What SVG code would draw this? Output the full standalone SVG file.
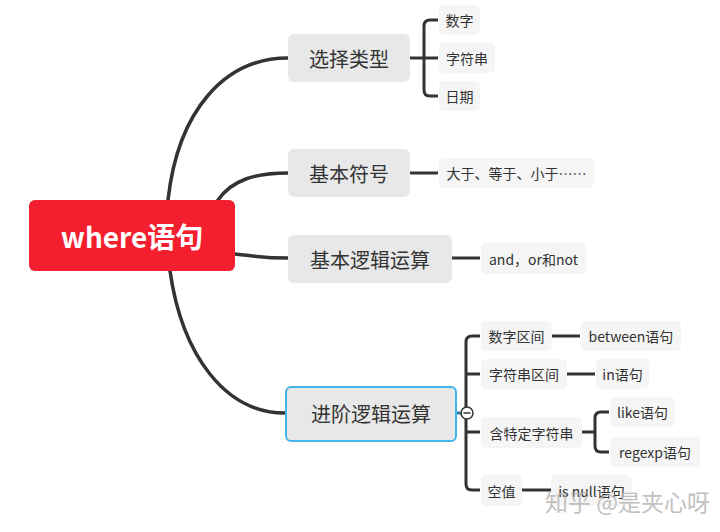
<svg xmlns="http://www.w3.org/2000/svg" width="720" height="532" viewBox="0 0 720 532">
<style>
.root{fill:#f31f2e}
.l1{fill:#e8e8e8}
.leaf{fill:#f5f5f5}
.t{font-family:"Noto Sans CJK SC","Noto Sans",sans-serif;text-anchor:middle;dominant-baseline:central;fill:#333}
.t1{font-size:20px}
.t2{font-size:14px}
.rt{font-size:28px;font-weight:bold;fill:#fff}
.c{fill:none;stroke:#333;stroke-width:3.5;stroke-linecap:round}
.b{fill:none;stroke:#333;stroke-width:3;stroke-linecap:butt}
</style>
<rect width="720" height="532" fill="#fff"/>
<g id="connectors">
<path class="c" d="M168,200 C178,110 225,58 288,58"/>
<path class="c" d="M218,200 C232,180 255,173 288,173"/>
<path class="c" d="M235,254 C255,256 262,258 288,258"/>
<path class="c" d="M170,271 C182,355 225,413 285,413"/>
<path class="b" d="M410,58 H438 M438,20 H430 Q424,20 424,26 V90 Q424,96 430,96 H438"/>
<path class="b" d="M410,173 H438"/>
<path class="b" d="M452,258 H480"/>
<path class="b" d="M480,336 H472 Q466,336 466,342 V484 Q466,490 472,490 H480 M466,374 H480 M466,432 H480"/>
<path d="M456,413 H461" stroke="#2b7fa6" stroke-width="3"/>
<path class="b" d="M552,336 H580 M567,374 H595 M522,490 H551"/>
<path class="b" d="M582,432 H595 M609,412 H601 Q595,412 595,418 V446 Q595,452 601,452 H609"/>
</g>
<g id="root">
<rect class="root" x="29" y="200" width="206" height="71" rx="6"/>
<text class="t rt" x="132" y="236">where语句</text>
</g>
<g id="n-xuanze">
<rect class="l1" x="288" y="34" width="122" height="48" rx="6"/>
<text class="t t1" x="349" y="58">选择类型</text>
</g>
<g id="n-shuzi">
<rect class="leaf" x="439" y="5" width="41" height="30" rx="5"/>
<text class="t t2" x="459.5" y="20">数字</text>
</g>
<g id="n-zifuchuan">
<rect class="leaf" x="439" y="43" width="56" height="30" rx="5"/>
<text class="t t2" x="467" y="58">字符串</text>
</g>
<g id="n-riqi">
<rect class="leaf" x="439" y="81" width="41" height="30" rx="5"/>
<text class="t t2" x="459.5" y="96">日期</text>
</g>
<g id="n-fuhao">
<rect class="l1" x="288" y="149" width="122" height="48" rx="6"/>
<text class="t t1" x="349" y="173">基本符号</text>
</g>
<g id="n-dayu">
<rect class="leaf" x="439" y="158" width="155" height="30" rx="5"/>
<text class="t t2" x="516.5" y="173">大于、等于、小于……</text>
</g>
<g id="n-luoji">
<rect class="l1" x="288" y="235" width="164" height="48" rx="6"/>
<text class="t t1" x="370" y="259">基本逻辑运算</text>
</g>
<g id="n-andornot">
<rect class="leaf" x="481" y="243" width="105" height="31" rx="5"/>
<text class="t t2" x="533.5" y="258.5">and，or和not</text>
</g>
<g id="n-jinjie">
<rect class="l1" x="286" y="387" width="170" height="54" rx="5" stroke="#44b5e8" stroke-width="2"/>
<text class="t t1" x="371" y="413">进阶逻辑运算</text>
<circle cx="467" cy="413" r="6" fill="#fff" stroke="#333" stroke-width="1.5"/>
<path d="M463.5,413 H470.5" stroke="#333" stroke-width="1.5"/>
</g>
<g id="n-shuziqujian">
<rect class="leaf" x="481" y="321" width="71" height="30" rx="5"/>
<text class="t t2" x="516.5" y="336">数字区间</text>
</g>
<g id="n-between">
<rect class="leaf" x="581" y="321" width="100" height="30" rx="5"/>
<text class="t t2" x="631" y="336">between语句</text>
</g>
<g id="n-zifuchuanqujian">
<rect class="leaf" x="481" y="359" width="86" height="30" rx="5"/>
<text class="t t2" x="524" y="374">字符串区间</text>
</g>
<g id="n-in">
<rect class="leaf" x="596" y="359" width="53" height="30" rx="5"/>
<text class="t t2" x="622.5" y="374">in语句</text>
</g>
<g id="n-hante">
<rect class="leaf" x="481" y="417" width="101" height="31" rx="5"/>
<text class="t t2" x="531.5" y="432.5">含特定字符串</text>
</g>
<g id="n-like">
<rect class="leaf" x="610" y="397" width="65" height="30" rx="5"/>
<text class="t t2" x="642.5" y="412">like语句</text>
</g>
<g id="n-regexp">
<rect class="leaf" x="610" y="437" width="90" height="30" rx="5"/>
<text class="t t2" x="655" y="452">regexp语句</text>
</g>
<g id="n-kongzhi">
<rect class="leaf" x="481" y="475" width="41" height="31" rx="5"/>
<text class="t t2" x="501.5" y="490.5">空值</text>
</g>
<g id="n-isnull">
<rect class="leaf" x="551" y="475" width="81" height="31" rx="5"/>
<text class="t t2" x="591.5" y="490.5">is null语句</text>
</g>
<text x="545" y="511" font-family="'Noto Sans CJK SC',sans-serif" font-size="23" fill="#b5b5b5" fill-opacity="0.85">知乎 @是夹心呀</text>
</svg>
